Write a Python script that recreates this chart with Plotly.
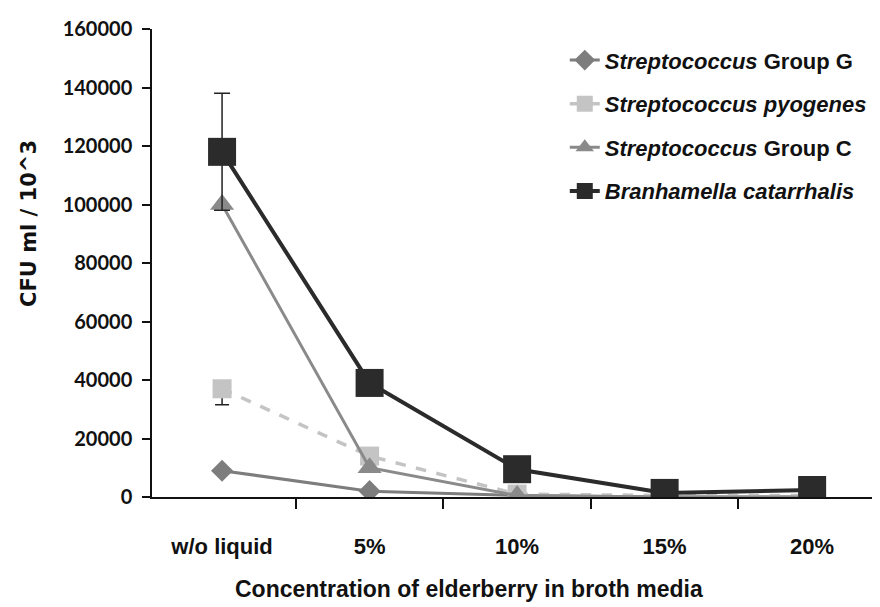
import plotly.graph_objects as go

categories = ["w/o liquid", "5%", "10%", "15%", "20%"]
group_g = [9000, 2000, 500, 0, 0]
pyogenes = [37000, 14000, 1000, 500, 500]
group_c = [100000, 10000, 500, 0, 0]
branhamella = [118000, 39000, 9500, 1400, 2400]

err_pyogenes_minus = [5500, 0, 0, 0, 0]
err_group_c = [1000, 0, 0, 0, 0]
err_branhamella = [20000, 0, 0, 0, 0]

y_ticks = [0, 20000, 40000, 60000, 80000, 100000, 120000, 140000, 160000]
y_ticktext = [str(v) for v in y_ticks]

xpos = list(range(len(categories)))
INK = "#111111"

fig = go.Figure()
fig.add_trace(go.Scatter(
    x=xpos, y=group_g, mode="lines+markers", legendgroup="g",
    name="<i>Streptococcus</i> Group G",
    line=dict(color="#7d7d7d", width=3),
    marker=dict(symbol="diamond", size=17, color="#7d7d7d"),
))
fig.add_trace(go.Scatter(
    x=xpos, y=pyogenes, mode="lines+markers", legendgroup="p",
    name="<i>Streptococcus pyogenes</i>",
    line=dict(color="#c4c4c4", width=3.5, dash="dash"),
    marker=dict(symbol="square", size=19, color="#c4c4c4"),
    error_y=dict(type="data", symmetric=False, array=[0]*5,
                 arrayminus=err_pyogenes_minus, color="#222222",
                 thickness=1.5, width=7),
))
fig.add_trace(go.Scatter(
    x=xpos, y=group_c, mode="lines+markers", legendgroup="c",
    name="<i>Streptococcus</i> Group C",
    line=dict(color="#8a8a8a", width=3),
    marker=dict(symbol="triangle-up", size=21, color="#8a8a8a"),
    error_y=dict(type="data", array=err_group_c, color="#222222",
                 thickness=1.5, width=5),
))
fig.add_trace(go.Scatter(
    x=xpos, y=branhamella, mode="lines+markers", legendgroup="b",
    name="<i>Branhamella catarrhalis</i>",
    line=dict(color="#2b2b2b", width=4),
    marker=dict(symbol="square", size=28, color="#2b2b2b"),
    error_y=dict(type="data", array=err_branhamella, color="#222222",
                 thickness=1.5, width=8),
))

fig.update_layout(
    width=880, height=607,
    margin=dict(l=144, r=8, t=14, b=118),
    plot_bgcolor="white", paper_bgcolor="white",
    font=dict(family="Liberation Sans", color=INK),
    legend=dict(
        x=0.567, y=0.978, xanchor="left", yanchor="top",
        font=dict(family="Liberation Sans", size=22, weight="bold", color=INK),
        bgcolor="rgba(0,0,0,0)", tracegroupgap=12, traceorder="grouped",
    ),
    showlegend=True,
)
fig.update_xaxes(
    range=[-0.475, 4.46], tickvals=xpos, ticktext=categories,
    ticks="", showgrid=False, zeroline=False,
    showline=True, linecolor=INK, linewidth=1.5,
    tickfont=dict(family="Liberation Sans", size=22, weight="bold", color=INK),
    ticklabelstandoff=29,
    minor=dict(tickvals=[0.5, 1.5, 2.5, 3.5], ticks="outside", ticklen=10,
               tickcolor=INK, tickwidth=1.5, showgrid=False),
)
fig.update_yaxes(
    range=[0, 160000], tickvals=y_ticks, ticktext=y_ticktext,
    ticks="outside", ticklen=8, tickcolor=INK, tickwidth=1.5,
    showgrid=False, zeroline=False,
    showline=True, linecolor=INK, linewidth=1.5,
    tickfont=dict(family="Lato", size=20, weight="bold", color=INK),
    ticklabelstandoff=6,
)
fig.add_annotation(
    text="CFU ml / 10^3", textangle=-90,
    xref="paper", yref="paper", x=-0.170, y=0.584,
    xanchor="center", yanchor="middle", showarrow=False,
    font=dict(family="DejaVu Sans", size=21, weight="bold", color=INK),
)
fig.add_annotation(
    text="Concentration of elderberry in broth media",
    xref="paper", yref="paper", x=0.435, y=-0.197,
    xanchor="center", yanchor="middle", showarrow=False,
    font=dict(family="Liberation Sans", size=23, weight="bold", color=INK),
)

fig.write_html("out.html")
